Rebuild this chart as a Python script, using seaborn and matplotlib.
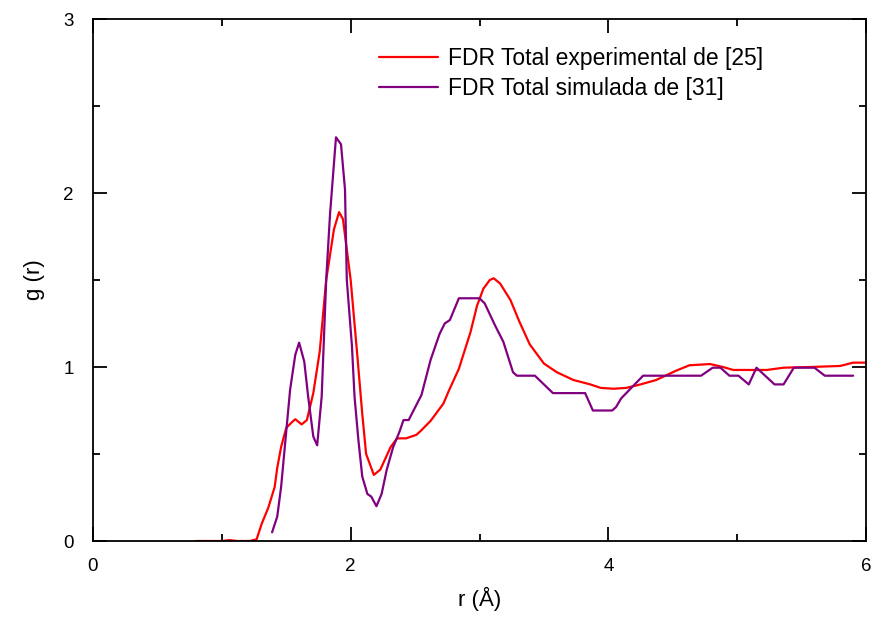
import numpy as np
import pandas as pd
import matplotlib
matplotlib.use("Agg")
import matplotlib.pyplot as plt
import seaborn as sns
from matplotlib.ticker import MultipleLocator

r_exp = [0.80, 1.00, 1.06, 1.12, 1.22, 1.27, 1.31, 1.36, 1.41, 1.43, 1.46, 1.50, 1.54, 1.57, 1.62, 1.66,
         1.71, 1.76, 1.81, 1.87, 1.91, 1.94, 2.00, 2.05, 2.09, 2.12, 2.18, 2.23, 2.31, 2.36, 2.43,
         2.51, 2.54, 2.62, 2.72, 2.76, 2.84, 2.93, 2.98, 3.03, 3.08, 3.11, 3.16, 3.24, 3.31, 3.39,
         3.50, 3.60, 3.73, 3.86, 3.94, 4.04, 4.14, 4.25, 4.37, 4.53, 4.63, 4.79, 4.89, 4.97, 5.23,
         5.36, 5.57, 5.80, 5.90, 6.00]
g_exp = [0.00, 0.00, 0.005, 0.00, 0.00, 0.01, 0.10, 0.19, 0.31, 0.42, 0.54, 0.65, 0.68, 0.70, 0.67, 0.695,
         0.85, 1.09, 1.50, 1.79, 1.89, 1.85, 1.50, 1.08, 0.73, 0.50, 0.38, 0.41, 0.54, 0.59, 0.59,
         0.61, 0.63, 0.69, 0.79, 0.86, 0.99, 1.20, 1.35, 1.45, 1.50, 1.51, 1.48, 1.385, 1.26, 1.13,
         1.02, 0.97, 0.925, 0.90, 0.88, 0.875, 0.88, 0.90, 0.925, 0.98, 1.01, 1.017, 1.00, 0.983, 0.983,
         0.996, 1.00, 1.006, 1.025, 1.025]

r_sim = [1.39, 1.43, 1.46, 1.53, 1.57, 1.60, 1.64, 1.67, 1.71, 1.74, 1.775, 1.81, 1.84, 1.886, 1.925,
         1.956, 1.97, 2.01, 2.03, 2.06, 2.09, 2.13, 2.16, 2.20, 2.24, 2.28, 2.33, 2.38, 2.41, 2.45,
         2.55, 2.62, 2.69, 2.73, 2.77, 2.84, 3.00, 3.04, 3.12, 3.185, 3.26, 3.29, 3.43, 3.57, 3.82,
         3.88, 4.03, 4.06, 4.10, 4.27, 4.72, 4.81, 4.87, 4.94, 5.01, 5.09, 5.15, 5.29, 5.36, 5.44,
         5.60, 5.68, 5.90]
g_sim = [0.05, 0.14, 0.31, 0.87, 1.07, 1.14, 1.03, 0.83, 0.60, 0.55, 0.83, 1.50, 1.88, 2.32, 2.28,
         2.02, 1.50, 1.12, 0.83, 0.58, 0.37, 0.27, 0.255, 0.20, 0.27, 0.41, 0.54, 0.63, 0.695, 0.695,
         0.84, 1.04, 1.19, 1.25, 1.27, 1.395, 1.395, 1.366, 1.24, 1.145, 0.97, 0.95, 0.95, 0.85, 0.85,
         0.75, 0.75, 0.77, 0.82, 0.95, 0.95, 0.996, 0.996, 0.95, 0.95, 0.90, 0.996, 0.90, 0.90, 0.996,
         0.996, 0.95, 0.95]

labels = ["FDR Total experimental de [25]", "FDR Total simulada de [31]"]
colors = ["#ff0000", "#800080"]

df = pd.concat([
    pd.DataFrame({"r": r_exp, "g": g_exp, "serie": labels[0]}),
    pd.DataFrame({"r": r_sim, "g": g_sim, "serie": labels[1]}),
])

sns.set_theme(style="white")
plt.rcParams["font.family"] = ["Liberation Sans", "DejaVu Sans"]
plt.rcParams["axes.edgecolor"] = "black"
plt.rcParams["axes.linewidth"] = 1.3
for k in ["text.color", "axes.labelcolor", "xtick.color", "ytick.color",
          "xtick.labelcolor", "ytick.labelcolor"]:
    plt.rcParams[k] = "black"

fig = plt.figure(figsize=(8.71, 6.18), dpi=100)
ax = fig.add_axes([93/871, 1 - 541/618, (866-93)/871, (541-19)/618])

sns.lineplot(data=df, x="r", y="g", hue="serie", palette=dict(zip(labels, colors)),
             sort=False, estimator=None, linewidth=1.6, ax=ax)

ax.set_xlim(0, 6)
ax.set_ylim(0, 3)
ax.xaxis.set_major_locator(MultipleLocator(2))
ax.xaxis.set_minor_locator(MultipleLocator(1))
ax.yaxis.set_major_locator(MultipleLocator(1))
ax.yaxis.set_minor_locator(MultipleLocator(0.5))
ax.tick_params(which="both", direction="in", top=True, right=True, bottom=True, left=True,
               color="black", width=1.3, labelsize=13.5)
ax.tick_params(axis="x", which="both", pad=12)
ax.tick_params(axis="y", which="both", pad=14)
ax.tick_params(which="major", length=10)
ax.tick_params(which="minor", length=5)
ax.set_xlabel("r (Å)", fontsize=16, labelpad=9)
ax.set_ylabel("g (r)", fontsize=16, labelpad=13)

leg = ax.legend(loc="upper left", bbox_to_anchor=(0.343, 0.985), frameon=False, fontsize=16.5,
                handlelength=2.6, handletextpad=0.4, labelspacing=0.28, title=None)
for line in leg.get_lines():
    line.set_linewidth(1.6)

fig.savefig("out.png", dpi=100)
